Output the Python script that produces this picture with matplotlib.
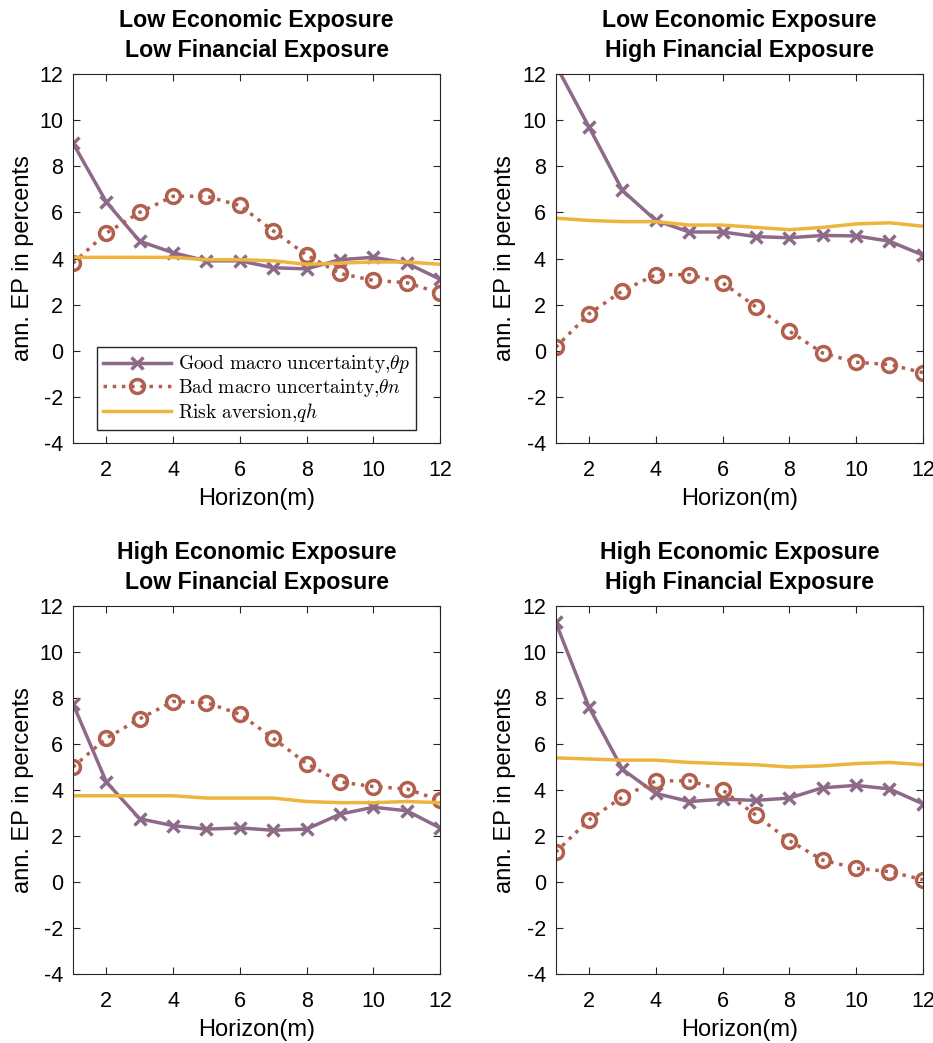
import matplotlib
matplotlib.use("Agg")
import matplotlib.pyplot as plt
import numpy as np

plt.rcParams['font.family'] = ['Liberation Sans', 'DejaVu Sans']
plt.rcParams['mathtext.fontset'] = 'cm'
plt.rcParams['axes.unicode_minus'] = False

horizon = np.arange(1, 13)

titles = ["Low Economic Exposure\nLow Financial Exposure",
          "Low Economic Exposure\nHigh Financial Exposure",
          "High Economic Exposure\nLow Financial Exposure",
          "High Economic Exposure\nHigh Financial Exposure"]

good = [
    [9.0, 6.45, 4.75, 4.25, 3.9, 3.9, 3.6, 3.55, 3.95, 4.05, 3.8, 3.1],
    [12.4, 9.7, 6.95, 5.65, 5.15, 5.15, 4.95, 4.9, 5.0, 4.98, 4.75, 4.15],
    [7.75, 4.35, 2.75, 2.45, 2.3, 2.35, 2.25, 2.3, 2.95, 3.25, 3.1, 2.35],
    [11.3, 7.6, 4.9, 3.85, 3.5, 3.6, 3.55, 3.65, 4.1, 4.2, 4.05, 3.4],
]
bad = [
    [3.8, 5.1, 6.0, 6.7, 6.7, 6.3, 5.2, 4.15, 3.35, 3.05, 2.95, 2.5],
    [0.15, 1.6, 2.6, 3.3, 3.3, 2.95, 1.9, 0.85, -0.1, -0.5, -0.6, -0.95],
    [5.0, 6.25, 7.1, 7.85, 7.8, 7.3, 6.25, 5.15, 4.35, 4.15, 4.05, 3.55],
    [1.3, 2.7, 3.7, 4.4, 4.4, 4.0, 2.9, 1.8, 0.95, 0.6, 0.45, 0.1],
]
risk = [
    [4.05, 4.05, 4.05, 4.05, 3.95, 3.95, 3.9, 3.75, 3.8, 3.85, 3.85, 3.75],
    [5.75, 5.65, 5.6, 5.6, 5.45, 5.45, 5.35, 5.25, 5.35, 5.5, 5.55, 5.4],
    [3.75, 3.75, 3.75, 3.75, 3.65, 3.65, 3.65, 3.5, 3.45, 3.45, 3.5, 3.45],
    [5.4, 5.35, 5.3, 5.3, 5.2, 5.15, 5.1, 5.0, 5.05, 5.15, 5.2, 5.1],
]

labels = [r'$\mathrm{Good\ macro\ uncertainty}{,}\theta p$',
          r'$\mathrm{Bad\ macro\ uncertainty}{,}\theta n$',
          r'$\mathrm{Risk\ aversion}{,}qh$']

c_good = '#8c6a88'
c_bad = '#b2604e'
c_risk = '#edb53e'

fig = plt.figure(figsize=(9.33, 10.43), dpi=100)
pos = [[0.0782, 0.5753, 0.3935, 0.3537],
       [0.5956, 0.5753, 0.3935, 0.3537],
       [0.0782, 0.0662, 0.3935, 0.3527],
       [0.5956, 0.0662, 0.3935, 0.3527]]

for i in range(4):
    ax = fig.add_axes(pos[i])
    ax.plot(horizon, good[i], '-', color=c_good, lw=2.5, marker='x', ms=8, mew=2.5, label=labels[0])
    ax.plot(horizon, bad[i], ':', color=c_bad, lw=2.5, marker='o', ms=10, mew=2.5, mfc='none', label=labels[1])
    ax.plot(horizon, risk[i], '-', color=c_risk, lw=2.5, label=labels[2])
    ax.set_xlim(1, 12)
    ax.set_ylim(-4, 12)
    ax.set_xticks([2, 4, 6, 8, 10, 12])
    ax.set_yticks(np.arange(-4, 13, 2))
    ax.tick_params(direction='in', top=True, right=True, labelsize=15.5, length=5,
                   color='#262626')
    ax.tick_params(axis='x', pad=12)
    ax.tick_params(axis='y', pad=7)
    for s in ax.spines.values():
        s.set_color('#262626')
    ax.set_xlabel("Horizon(m)", fontsize=17, labelpad=5)
    ax.set_ylabel("ann. EP in percents", fontsize=17, labelpad=4)
    ax.set_title(titles[i], fontsize=16.7, fontweight='bold', linespacing=1.4, pad=12)
    if i == 0:
        leg = ax.legend(loc='lower left', bbox_to_anchor=(0.065, 0.035), fontsize=14,
                        fancybox=False, edgecolor='#262626', framealpha=1,
                        handlelength=3.5, borderpad=0.3, labelspacing=0.1,
                        handletextpad=0.35, borderaxespad=0)
        leg.get_frame().set_linewidth(1.0)

fig.savefig("out.png", dpi=100)
